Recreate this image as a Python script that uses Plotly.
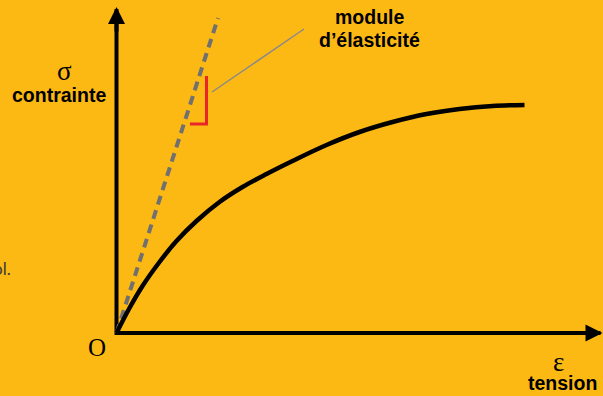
import plotly.graph_objects as go

# Stress-strain curve (strain epsilon, stress sigma) in chart units
strain = [0, 13, 26, 43, 60, 80, 103, 126, 150, 176, 210,
          243, 276, 310, 343, 376, 408]
stress = [0, 25, 47, 71, 92, 112, 131, 146, 159, 172, 188,
          201, 211, 219, 224, 227, 228]

# Elastic modulus (initial tangent) line
modulus_x = [0, 101.5]
modulus_y = [0, 315]

# Slope indicator (red bracket)
bracket_x = [73.5, 90, 90]
bracket_y = [209, 209, 257]

# Leader line to label
leader_x = [95.5, 187.5]
leader_y = [241, 304]

# Axis extents
axis_x = [0, 0, 484]
axis_y = [324, 0, 0]

BG = "#FDB913"

fig = go.Figure()

fig.add_trace(go.Scatter(x=axis_x, y=axis_y, mode="lines",
                         line=dict(color="black", width=4), hoverinfo="skip"))
fig.add_trace(go.Scatter(x=modulus_x, y=modulus_y, mode="lines",
                         line=dict(color="#707070", width=4, dash="9px,6px"),
                         hoverinfo="skip"))
fig.add_trace(go.Scatter(x=strain, y=stress, mode="lines",
                         line=dict(color="black", width=4.5, shape="spline", smoothing=1.0),
                         hoverinfo="skip"))
fig.add_trace(go.Scatter(x=bracket_x, y=bracket_y, mode="lines",
                         line=dict(color="#E8262A", width=3), hoverinfo="skip"))
fig.add_trace(go.Scatter(x=leader_x, y=leader_y, mode="lines",
                         line=dict(color="#8A8A8A", width=1.5), hoverinfo="skip"))

# Arrowheads on axes
fig.add_annotation(x=0, y=326, ax=0, ay=300, xref="x", yref="y", axref="x", ayref="y",
                   text="", showarrow=True, arrowhead=2, arrowwidth=4, arrowsize=0.85,
                   arrowcolor="black")
fig.add_annotation(x=486, y=0, ax=460, ay=0, xref="x", yref="y", axref="x", ayref="y",
                   text="", showarrow=True, arrowhead=2, arrowwidth=4, arrowsize=0.85,
                   arrowcolor="black")

serif = "Liberation Serif, Times New Roman, serif"
sans_b = "Liberation Sans, Arial, sans-serif"

def txt(x, y, s, size, family, color="black", bold=False, xanchor="center"):
    fig.add_annotation(x=x, y=y, xref="x", yref="y", text=(f"<b>{s}</b>" if bold else s),
                       showarrow=False, xanchor=xanchor, yanchor="middle",
                       font=dict(size=size, family=family, color=color))

txt(-52, 262, "σ", 27, serif)
txt(-57.5, 238, "contrainte", 19.5, sans_b, bold=True)
txt(-19.5, -14, "O", 25, serif)
txt(441.5, -29, "ε", 27, serif)
txt(445.5, -50, "tension", 19.5, sans_b, bold=True)
txt(252.5, 316, "module", 19.5, sans_b, bold=True)
txt(252.5, 293, "d’élasticité", 19.5, sans_b, bold=True)

# Fragments of neighbouring text at the left edge
txt(-113.5, 152, "n", 17, "Lato, Liberation Sans, sans-serif", color="#3a3a3a", xanchor="right")
txt(-103.5, 65, "ol.", 17, "Lato, Liberation Sans, sans-serif", color="#3a3a3a", xanchor="right")

fig.update_layout(
    width=603, height=396, autosize=False,
    margin=dict(l=0, r=0, t=0, b=0, pad=0),
    paper_bgcolor=BG, plot_bgcolor=BG,
    showlegend=False,
    xaxis=dict(range=[-116.5, 486.5], visible=False, fixedrange=True),
    yaxis=dict(range=[-63, 333], visible=False, fixedrange=True),
)

fig.write_html("out.html", config={"displayModeBar": False},
               post_script="document.body.style.margin='0';document.body.style.padding='0';document.body.style.overflow='hidden';")
